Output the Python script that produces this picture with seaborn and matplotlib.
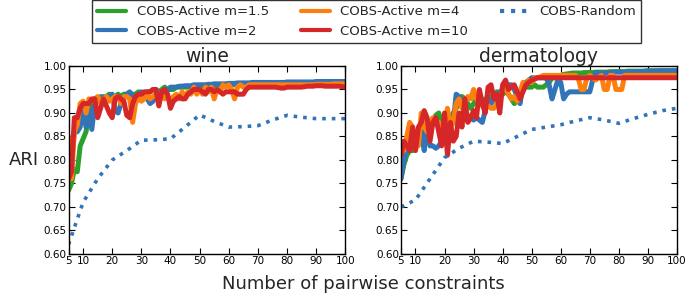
import matplotlib
matplotlib.use("Agg")
import matplotlib.pyplot as plt
import seaborn as sns
import pandas as pd

# ---------------- data ----------------
x_active = list(range(5, 101))
x_random = [5, 10, 15, 20, 25, 30, 35, 40, 45, 50, 55, 60, 65, 70, 75, 80, 85, 90, 95, 100]

labels = ["COBS-Active m=1.5", "COBS-Active m=2", "COBS-Active m=4", "COBS-Active m=10"]
random_label = "COBS-Random"

wine_m15 = [0.735, 0.75, 0.78, 0.775, 0.83, 0.845, 0.86, 0.90, 0.92, 0.93,
            0.93, 0.935, 0.93, 0.935, 0.94, 0.93, 0.935, 0.94, 0.935, 0.94,
            0.94, 0.935, 0.94, 0.94, 0.945, 0.94, 0.94, 0.945, 0.945, 0.95,
            0.95, 0.945, 0.95, 0.955, 0.95, 0.95, 0.95, 0.955, 0.955, 0.955,
            0.955, 0.955, 0.955, 0.955, 0.957, 0.957, 0.958, 0.958, 0.958, 0.958,
            0.958, 0.96, 0.96, 0.96, 0.96, 0.96, 0.96, 0.96, 0.962, 0.962,
            0.962, 0.962, 0.962, 0.962, 0.962, 0.962, 0.962, 0.962, 0.962, 0.962,
            0.963, 0.963, 0.963, 0.963, 0.963, 0.963, 0.963, 0.963, 0.963, 0.963,
            0.963, 0.963, 0.963, 0.963, 0.964, 0.964, 0.964, 0.964, 0.964, 0.964,
            0.964, 0.964, 0.964, 0.964, 0.964, 0.964]
wine_m2 = [0.76, 0.80, 0.86, 0.86, 0.87, 0.91, 0.87, 0.91, 0.865, 0.92,
           0.925, 0.93, 0.935, 0.93, 0.935, 0.94, 0.905, 0.90, 0.92, 0.935,
           0.94, 0.945, 0.935, 0.93, 0.94, 0.945, 0.94, 0.93, 0.92, 0.925,
           0.94, 0.945, 0.94, 0.945, 0.95, 0.955, 0.955, 0.955, 0.957, 0.957,
           0.958, 0.958, 0.958, 0.96, 0.96, 0.96, 0.96, 0.96, 0.961, 0.961,
           0.962, 0.962, 0.962, 0.962, 0.962, 0.963, 0.963, 0.963, 0.964, 0.964,
           0.964, 0.964, 0.964, 0.965, 0.965, 0.965, 0.965, 0.965, 0.965, 0.965,
           0.965, 0.965, 0.965, 0.965, 0.965, 0.966, 0.966, 0.966, 0.966, 0.966,
           0.966, 0.966, 0.966, 0.966, 0.966, 0.967, 0.967, 0.967, 0.967, 0.967,
           0.967, 0.967, 0.967, 0.967, 0.967, 0.967]
wine_m4 = [0.85, 0.76, 0.86, 0.875, 0.92, 0.925, 0.90, 0.93, 0.925, 0.93,
           0.935, 0.92, 0.93, 0.935, 0.925, 0.93, 0.935, 0.935, 0.92, 0.935,
           0.935, 0.93, 0.88, 0.92, 0.935, 0.925, 0.93, 0.94, 0.93, 0.935,
           0.94, 0.93, 0.945, 0.93, 0.935, 0.925, 0.935, 0.94, 0.93, 0.945,
           0.935, 0.945, 0.94, 0.955, 0.94, 0.95, 0.94, 0.955, 0.945, 0.955,
           0.93, 0.95, 0.945, 0.96, 0.955, 0.96, 0.95, 0.93, 0.955, 0.96,
           0.955, 0.955, 0.96, 0.96, 0.96, 0.96, 0.96, 0.96, 0.96, 0.96,
           0.96, 0.96, 0.96, 0.96, 0.96, 0.96, 0.96, 0.96, 0.96, 0.96,
           0.96, 0.96, 0.96, 0.96, 0.96, 0.961, 0.961, 0.961, 0.961, 0.961,
           0.961, 0.962, 0.962, 0.962, 0.962, 0.962]
wine_m10 = [0.76, 0.775, 0.89, 0.89, 0.91, 0.92, 0.92, 0.92, 0.93, 0.93,
            0.89, 0.91, 0.93, 0.915, 0.90, 0.89, 0.93, 0.935, 0.93, 0.925,
            0.895, 0.89, 0.92, 0.935, 0.94, 0.94, 0.945, 0.945, 0.945, 0.95,
            0.95, 0.915, 0.945, 0.95, 0.94, 0.91, 0.925, 0.93, 0.935, 0.93,
            0.93, 0.94, 0.945, 0.95, 0.95, 0.95, 0.945, 0.94, 0.95, 0.95,
            0.945, 0.95, 0.945, 0.94, 0.945, 0.945, 0.945, 0.945, 0.94, 0.94,
            0.94, 0.95, 0.955, 0.955, 0.955, 0.955, 0.955, 0.955, 0.955, 0.955,
            0.955, 0.955, 0.954, 0.953, 0.953, 0.955, 0.955, 0.955, 0.955, 0.955,
            0.955, 0.956, 0.957, 0.957, 0.957, 0.958, 0.958, 0.958, 0.957, 0.957,
            0.957, 0.957, 0.957, 0.957, 0.956, 0.955]
wine_random = [0.62, 0.71, 0.76, 0.80, 0.82, 0.842, 0.843, 0.845, 0.87, 0.896,
               0.882, 0.87, 0.871, 0.873, 0.885, 0.895, 0.891, 0.888, 0.888, 0.888]

derm_m15 = [0.76, 0.79, 0.81, 0.82, 0.82, 0.85, 0.85, 0.86, 0.88, 0.87,
            0.87, 0.88, 0.895, 0.90, 0.88, 0.86, 0.88, 0.89, 0.90, 0.91,
            0.92, 0.935, 0.93, 0.92, 0.91, 0.92, 0.93, 0.93, 0.925, 0.93,
            0.93, 0.935, 0.94, 0.945, 0.94, 0.94, 0.945, 0.94, 0.93, 0.92,
            0.925, 0.94, 0.96, 0.955, 0.955, 0.955, 0.96, 0.955, 0.955, 0.955,
            0.96, 0.965, 0.975, 0.975, 0.978, 0.98, 0.982, 0.983, 0.984, 0.985,
            0.985, 0.985, 0.985, 0.986, 0.986, 0.986, 0.986, 0.987, 0.987, 0.987,
            0.987, 0.987, 0.988, 0.988, 0.988, 0.988, 0.988, 0.988, 0.989, 0.989,
            0.989, 0.989, 0.989, 0.989, 0.989, 0.99, 0.99, 0.99, 0.99, 0.99,
            0.99, 0.99, 0.99, 0.99, 0.99, 0.99]
derm_m2 = [0.76, 0.80, 0.82, 0.84, 0.86, 0.86, 0.85, 0.86, 0.82, 0.88,
           0.83, 0.83, 0.825, 0.83, 0.84, 0.85, 0.84, 0.87, 0.88, 0.94,
           0.935, 0.92, 0.90, 0.89, 0.89, 0.885, 0.89, 0.885, 0.88, 0.905,
           0.93, 0.92, 0.93, 0.93, 0.945, 0.95, 0.955, 0.96, 0.96, 0.95,
           0.935, 0.92, 0.96, 0.965, 0.97, 0.975, 0.975, 0.975, 0.975, 0.975,
           0.975, 0.96, 0.93, 0.95, 0.97, 0.965, 0.93, 0.94, 0.945, 0.945,
           0.945, 0.945, 0.945, 0.945, 0.945, 0.945, 0.97, 0.985, 0.985, 0.985,
           0.985, 0.986, 0.986, 0.986, 0.987, 0.987, 0.987, 0.987, 0.987, 0.988,
           0.988, 0.988, 0.988, 0.988, 0.989, 0.989, 0.989, 0.989, 0.989, 0.99,
           0.99, 0.99, 0.99, 0.99, 0.99, 0.99]
derm_m4 = [0.83, 0.82, 0.85, 0.88, 0.87, 0.84, 0.83, 0.90, 0.87, 0.86,
           0.88, 0.89, 0.88, 0.88, 0.86, 0.85, 0.91, 0.87, 0.88, 0.92,
           0.93, 0.91, 0.92, 0.935, 0.93, 0.95, 0.93, 0.92, 0.915, 0.91,
           0.915, 0.91, 0.91, 0.92, 0.93, 0.95, 0.955, 0.94, 0.93, 0.935,
           0.925, 0.945, 0.965, 0.96, 0.97, 0.965, 0.975, 0.975, 0.977, 0.98,
           0.98, 0.98, 0.98, 0.98, 0.98, 0.98, 0.98, 0.98, 0.98, 0.98,
           0.98, 0.975, 0.95, 0.95, 0.975, 0.98, 0.975, 0.97, 0.975, 0.98,
           0.95, 0.95, 0.98, 0.98, 0.95, 0.95, 0.95, 0.98, 0.98, 0.98,
           0.98, 0.98, 0.98, 0.98, 0.98, 0.98, 0.98, 0.98, 0.98, 0.98,
           0.98, 0.98, 0.98, 0.98, 0.98, 0.98]
derm_m10 = [0.81, 0.84, 0.83, 0.82, 0.87, 0.82, 0.87, 0.88, 0.905, 0.89,
            0.84, 0.88, 0.89, 0.86, 0.83, 0.90, 0.81, 0.88, 0.84, 0.85,
            0.90, 0.87, 0.93, 0.88, 0.89, 0.905, 0.89, 0.95, 0.92, 0.90,
            0.955, 0.96, 0.93, 0.94, 0.90, 0.96, 0.97, 0.95, 0.955, 0.96,
            0.945, 0.93, 0.945, 0.96, 0.965, 0.97, 0.972, 0.975, 0.975, 0.975,
            0.975, 0.975, 0.975, 0.975, 0.975, 0.975, 0.975, 0.975, 0.975, 0.975,
            0.975, 0.975, 0.975, 0.975, 0.975, 0.975, 0.975, 0.975, 0.975, 0.975,
            0.975, 0.975, 0.975, 0.975, 0.975, 0.975, 0.975, 0.975, 0.975, 0.975,
            0.975, 0.975, 0.975, 0.975, 0.975, 0.975, 0.975, 0.975, 0.975, 0.975,
            0.975, 0.975, 0.975, 0.975, 0.975, 0.975]
derm_random = [0.70, 0.715, 0.76, 0.805, 0.825, 0.84, 0.838, 0.835, 0.85, 0.865,
               0.87, 0.875, 0.883, 0.89, 0.885, 0.878, 0.888, 0.897, 0.905, 0.91]

titles = ["wine", "dermatology"]
xticks = [5, 10, 20, 30, 40, 50, 60, 70, 80, 90, 100]
yticks = [0.60, 0.65, 0.70, 0.75, 0.80, 0.85, 0.90, 0.95, 1.00]

colors = ["#2ca02c", "#3274b8", "#ff7f0e", "#d62728"]
random_color = "#3274b8"

# ---------------- style ----------------
sns.set_style("ticks", {"xtick.direction": "in", "ytick.direction": "in"})
plt.rcParams["font.family"] = ["DejaVu Sans"]
plt.rcParams["xtick.top"] = True
plt.rcParams["ytick.right"] = True

fig = plt.figure(figsize=(6.86, 2.99), dpi=100)
ax1 = fig.add_axes([0.0999, 0.1505, 0.4034, 0.6288])
ax2 = fig.add_axes([0.5845, 0.1505, 0.4023, 0.6288])

datasets = [
    (ax1, [wine_m15, wine_m2, wine_m4, wine_m10], wine_random),
    (ax2, [derm_m15, derm_m2, derm_m4, derm_m10], derm_random),
]

for i, (ax, series, rnd) in enumerate(datasets):
    for ys, lab, col in zip(series, labels, colors):
        df = pd.DataFrame({"x": x_active, "y": ys})
        sns.lineplot(data=df, x="x", y="y", ax=ax, color=col, linewidth=3.6,
                     label=lab, legend=False, solid_joinstyle="round")
    dfr = pd.DataFrame({"x": x_random, "y": rnd})
    sns.lineplot(data=dfr, x="x", y="y", ax=ax, color=random_color, linewidth=2.6,
                 linestyle=":", label=random_label, legend=False)
    ax.set_xlim(5, 100)
    ax.set_ylim(0.60, 1.00)
    ax.set_xticks(xticks)
    ax.set_yticks(yticks)
    ax.set_yticklabels([f"{v:.2f}" for v in yticks])
    ax.tick_params(axis="both", which="major", labelsize=7.5, length=4, width=0.8,
                   pad=1.5, colors="black")
    for s in ax.spines.values():
        s.set_visible(True)
        s.set_color("black")
        s.set_linewidth(1.0)
    ax.set_xlabel("")
    ax.set_ylabel("")
    ax.set_title(titles[i], fontsize=13.5, pad=1)

ax1.set_ylabel("ARI", fontsize=13, rotation=0, labelpad=14, va="center")

fig.text(0.53, 0.05, "Number of pairwise constraints", fontsize=13,
         ha="center", va="center")

handles, labs = ax1.get_legend_handles_labels()
leg = fig.legend(handles, labs, loc="upper left", bbox_to_anchor=(0.134, 1.0),
                 ncol=3, fontsize=9.5, frameon=True, fancybox=False,
                 handlelength=2.2, columnspacing=2.4, labelspacing=0.5,
                 borderpad=0.4, handletextpad=0.8, borderaxespad=0.0)
leg.get_frame().set_edgecolor("black")
leg.get_frame().set_linewidth(1.0)
for h in leg.get_lines():
    h.set_linewidth(3.0)

fig.savefig("out.png", dpi=100)
